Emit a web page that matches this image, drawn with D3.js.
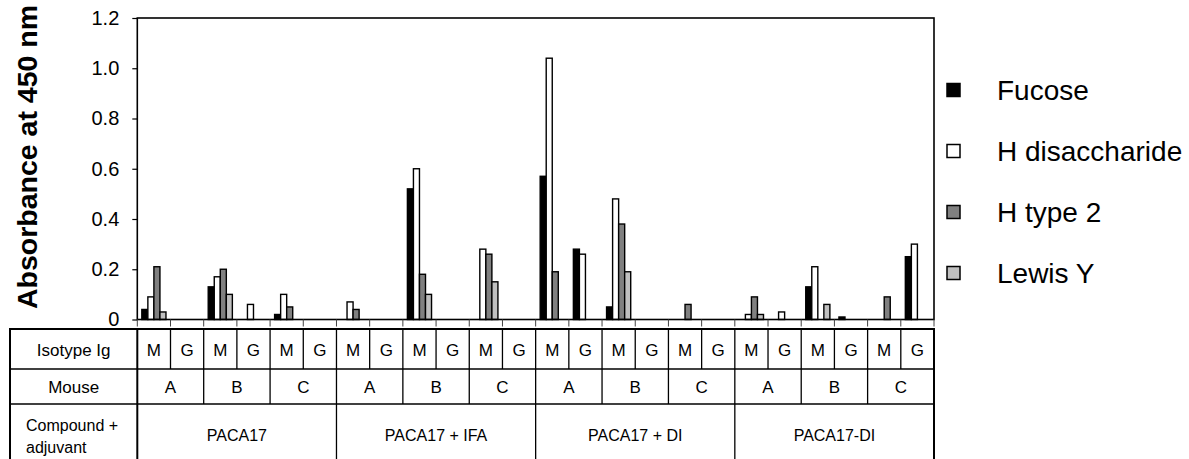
<!DOCTYPE html>
<html>
<head>
<meta charset="utf-8">
<script src="https://cdn.jsdelivr.net/npm/d3@7"></script>
<style>
  html, body { margin: 0; padding: 0; background: #fff; }
  svg { display: block; font-family: "Liberation Sans", Arial, sans-serif; }
</style>
</head>
<body>
<svg id="chart" width="1189" height="459"></svg>
<script>
// Antibody response (ELISA, OD at 450 nm) against four glycan targets
const series = ["Fucose", "H disaccharide", "H type 2", "Lewis Y"];
const seriesFill = ["#000000", "#ffffff", "#808080", "#c0c0c0"];

const compounds = ["PACA17", "PACA17 + IFA", "PACA17 + DI", "PACA17-DI"];
const mice = ["A", "B", "C"];
const isotypes = ["M", "G"];

// one row per compound; each row lists mouse A/B/C x isotype M/G
const fucose = [
  0.04, 0.00, 0.13, 0.00, 0.02, 0.00,
  0.00, 0.00, 0.52, 0.00, 0.00, 0.00,
  0.57, 0.28, 0.05, 0.00, 0.00, 0.00,
  0.00, 0.00, 0.13, 0.01, 0.00, 0.25
];
const hDisaccharide = [
  0.09, 0.00, 0.17, 0.06, 0.10, 0.00,
  0.07, 0.00, 0.60, 0.00, 0.28, 0.00,
  1.04, 0.26, 0.48, 0.00, 0.00, 0.00,
  0.02, 0.03, 0.21, 0.00, 0.00, 0.30
];
const hType2 = [
  0.21, 0.00, 0.20, 0.00, 0.05, 0.00,
  0.04, 0.00, 0.18, 0.00, 0.26, 0.00,
  0.19, 0.00, 0.38, 0.00, 0.06, 0.00,
  0.09, 0.00, 0.00, 0.00, 0.09, 0.00
];
const lewisY = [
  0.03, 0.00, 0.10, 0.00, 0.00, 0.00,
  0.00, 0.00, 0.10, 0.00, 0.15, 0.00,
  0.00, 0.00, 0.19, 0.00, 0.00, 0.00,
  0.02, 0.00, 0.06, 0.00, 0.00, 0.00
];
const yTicks = [0, 0.2, 0.4, 0.6, 0.8, 1.0, 1.2];

const values = [fucose, hDisaccharide, hType2, lewisY];

// flat list of the 24 columns (compound, mouse, isotype)
const columns = [];
compounds.forEach(c => mice.forEach(m => isotypes.forEach(iso => {
  columns.push({ compound: c, mouse: m, isotype: iso, index: columns.length });
})));

const svg = d3.select("#chart");
const plotLeft = 137.3, plotRight = 934, plotTop = 18, zeroY = 319.5;

const x = d3.scaleBand().domain(d3.range(columns.length)).range([plotLeft, plotRight]).padding(0);
const xs = d3.scaleBand().domain(series).range([0, x.bandwidth()]).paddingInner(0).paddingOuter(0.75);
const y = d3.scaleLinear().domain([0, 1.2]).range([zeroY, plotTop]);

// bars
const barData = [];
columns.forEach((col, i) => series.forEach((s, si) => {
  const v = values[si][i];
  if (v > 0) barData.push({ col: i, s, si, v });
}));

svg.append("g").selectAll("rect").data(barData).join("rect")
  .attr("x", d => x(d.col) + xs(d.s))
  .attr("y", d => y(d.v))
  .attr("width", xs.bandwidth())
  .attr("height", d => y(0) - y(d.v))
  .attr("fill", d => seriesFill[d.si])
  .attr("stroke", "#000")
  .attr("stroke-width", 1.4);

// plot frame
svg.append("rect")
  .attr("x", plotLeft).attr("y", plotTop)
  .attr("width", plotRight - plotLeft).attr("height", zeroY - plotTop)
  .attr("fill", "none").attr("stroke", "#000").attr("stroke-width", 1.6);

// y axis
const yAxis = d3.axisLeft(y).tickValues(yTicks).tickSize(5).tickPadding(13)
  .tickFormat(d => d === 0 ? "0" : d3.format(".1f")(d));
const ga = svg.append("g").attr("transform", `translate(${plotLeft},0)`).call(yAxis);
ga.select(".domain").remove();
ga.selectAll("line").attr("stroke", "#000").attr("stroke-width", 1.2);
ga.selectAll("text").attr("font-size", 20).attr("fill", "#000")
  .attr("font-family", "Liberation Sans, Arial, sans-serif");

// axis title
svg.append("text")
  .attr("transform", `translate(37,157) rotate(-90)`)
  .attr("text-anchor", "middle")
  .attr("font-weight", "bold")
  .attr("font-size", 28.5)
  .text("Absorbance at 450 nm");

// x tick marks between columns
const bounds = d3.range(columns.length + 1).map(i => plotLeft + i * x.step());
svg.append("g").selectAll("line").data(bounds).join("line")
  .attr("x1", d => d).attr("x2", d => d)
  .attr("y1", zeroY).attr("y2", zeroY + 7)
  .attr("stroke", "#444").attr("stroke-width", 1);

// category table below the axis
const tTop = 329, r1 = 369, r2 = 404, tBottom = 475, tLeft = 10;
const table = svg.append("g");
table.append("rect")
  .attr("x", tLeft).attr("y", tTop).attr("width", plotRight - tLeft).attr("height", tBottom - tTop)
  .attr("fill", "none").attr("stroke", "#000").attr("stroke-width", 2);
[r1, r2].forEach(ry => table.append("line")
  .attr("x1", tLeft).attr("x2", plotRight).attr("y1", ry).attr("y2", ry)
  .attr("stroke", "#000").attr("stroke-width", 1.3));
table.append("line").attr("x1", plotLeft).attr("x2", plotLeft).attr("y1", tTop).attr("y2", tBottom)
  .attr("stroke", "#000").attr("stroke-width", 2);
table.selectAll("line.div").data(d3.range(1, columns.length)).join("line")
  .attr("class", "div")
  .attr("x1", i => bounds[i]).attr("x2", i => bounds[i])
  .attr("y1", tTop)
  .attr("y2", i => i % 6 === 0 ? tBottom : (i % 2 === 0 ? r2 : r1))
  .attr("stroke", "#000").attr("stroke-width", 1.3);

const cellText = (g, xPos, yPos, txt, size) => g.append("text")
  .attr("x", xPos).attr("y", yPos)
  .attr("text-anchor", "middle").attr("dominant-baseline", "central")
  .attr("font-size", size).attr("fill", "#000").text(txt);

columns.forEach((col, i) => cellText(table, x(i) + x.step() / 2, (tTop + r1) / 2 + 1, col.isotype, 17));
d3.range(compounds.length * mice.length).forEach(k => {
  const cx = plotLeft + (k * 2 + 1) * x.step();
  cellText(table, cx, (r1 + r2) / 2 + 1, mice[k % 3], 17);
});
compounds.forEach((c, k) => {
  const cx = plotLeft + (k * 6 + 3) * x.step();
  cellText(table, cx, 435, c, 16);
});
cellText(table, (tLeft + plotLeft) / 2, (tTop + r1) / 2 + 1, "Isotype Ig", 17);
cellText(table, (tLeft + plotLeft) / 2, (r1 + r2) / 2 + 1, "Mouse", 17);
["Compound +", "adjuvant"].forEach((t, k) => table.append("text")
  .attr("x", 26).attr("y", 425 + k * 22).attr("dominant-baseline", "central")
  .attr("font-size", 16).attr("fill", "#000").text(t));

// legend
const legend = svg.append("g");
series.forEach((s, si) => {
  const cy = 90 + si * 61;
  legend.append("rect")
    .attr("x", 947).attr("y", cy - 6.5).attr("width", 13).attr("height", 13)
    .attr("fill", seriesFill[si]).attr("stroke", "#000").attr("stroke-width", 1.5);
  legend.append("text")
    .attr("x", 997).attr("y", cy).attr("dominant-baseline", "central")
    .attr("font-size", 28).attr("fill", "#000").text(s);
});
</script>
</body>
</html>
